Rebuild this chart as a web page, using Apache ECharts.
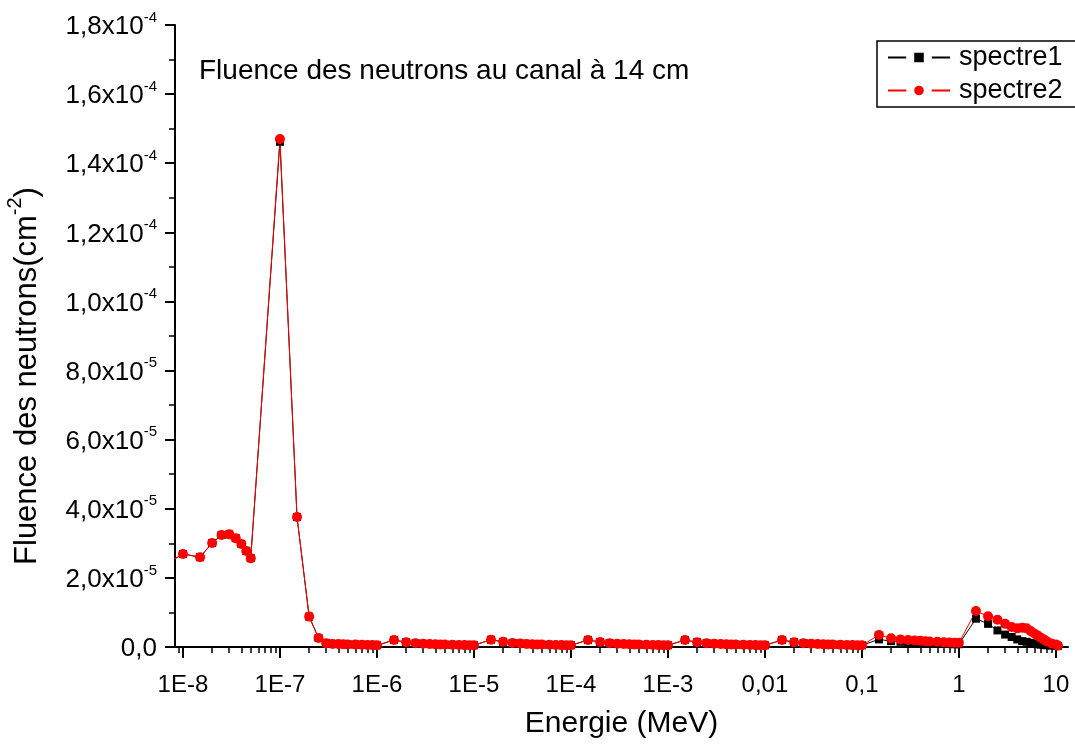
<!DOCTYPE html>
<html>
<head>
<meta charset="utf-8">
<script src="https://cdn.jsdelivr.net/npm/echarts@6/dist/echarts.min.js"></script>
<style>
  html, body { margin: 0; padding: 0; background: #fff; }
  #chart { width: 1075px; height: 744px; }
</style>
</head>
<body>
<div id="chart"></div>
<script>
// energies (MeV)
var energy = [
  5e-9, 1e-8, 1.5e-8, 2e-8, 2.5e-8, 3e-8, 3.5e-8, 4e-8, 4.5e-8, 5e-8,
  1e-7, 1.5e-7, 2e-7, 2.5e-7, 3e-7, 3.5e-7, 4e-7, 4.5e-7, 5e-7, 6e-7, 7e-7, 8e-7, 9e-7, 1e-6,
  1.5e-6, 2e-6, 2.5e-6, 3e-6, 3.5e-6, 4e-6, 4.5e-6, 5e-6, 6e-6, 7e-6, 8e-6, 9e-6, 1e-5,
  1.5e-5, 2e-5, 2.5e-5, 3e-5, 3.5e-5, 4e-5, 4.5e-5, 5e-5, 6e-5, 7e-5, 8e-5, 9e-5, 1e-4,
  1.5e-4, 2e-4, 2.5e-4, 3e-4, 3.5e-4, 4e-4, 4.5e-4, 5e-4, 6e-4, 7e-4, 8e-4, 9e-4, 1e-3,
  1.5e-3, 2e-3, 2.5e-3, 3e-3, 3.5e-3, 4e-3, 4.5e-3, 5e-3, 6e-3, 7e-3, 8e-3, 9e-3, 0.01,
  0.015, 0.02, 0.025, 0.03, 0.035, 0.04, 0.045, 0.05, 0.06, 0.07, 0.08, 0.09, 0.1,
  0.15, 0.2, 0.25, 0.3, 0.35, 0.4, 0.45, 0.5, 0.6, 0.7, 0.8, 0.9, 1,
  1.5, 2, 2.5, 3, 3.5, 4, 4.5, 5, 5.5, 6, 6.5, 7, 7.5, 8, 9, 10, 10.5
];

// fluence, in 1e-6 cm^-2
var spectre1 = [
  22, 26.9, 26.0, 30.1, 32.4, 32.6, 31.5, 29.8, 27.8, 25.7,
  146.2, 37.6, 8.8, 2.6, 1.1, 0.9, 0.85, 0.8, 0.75, 0.7, 0.65, 0.6, 0.55, 0.5,
  2.0, 1.4, 1.1, 0.95, 0.85, 0.8, 0.75, 0.7, 0.65, 0.6, 0.55, 0.5, 0.5,
  2.1, 1.5, 1.15, 1.0, 0.9, 0.8, 0.75, 0.7, 0.65, 0.6, 0.55, 0.5, 0.5,
  2.0, 1.45, 1.1, 0.95, 0.85, 0.8, 0.75, 0.7, 0.65, 0.6, 0.55, 0.5, 0.5,
  2.0, 1.4, 1.1, 0.95, 0.85, 0.8, 0.75, 0.7, 0.65, 0.6, 0.55, 0.5, 0.5,
  2.0, 1.4, 1.1, 0.95, 0.85, 0.8, 0.75, 0.7, 0.65, 0.6, 0.55, 0.5, 0.5,
  2.2, 1.7, 1.5, 1.3, 1.2, 1.1, 1.05, 1.0, 0.95, 0.9, 0.85, 0.8, 0.8,
  8.2, 6.7, 4.8, 3.6, 2.9, 2.2, 1.7, 1.5, 1.2, 1.0, 0.8, 0.7, 0.6, 0.5, 0.4, 0.4, 0.3
];
var spectre2 = [
  22, 26.9, 26.0, 30.1, 32.4, 32.6, 31.5, 29.8, 27.8, 25.7,
  147.0, 37.6, 8.8, 2.6, 1.1, 0.9, 0.85, 0.8, 0.75, 0.7, 0.65, 0.6, 0.55, 0.5,
  2.0, 1.4, 1.1, 0.95, 0.85, 0.8, 0.75, 0.7, 0.65, 0.6, 0.55, 0.5, 0.5,
  2.1, 1.5, 1.15, 1.0, 0.9, 0.8, 0.75, 0.7, 0.65, 0.6, 0.55, 0.5, 0.5,
  2.0, 1.45, 1.1, 0.95, 0.85, 0.8, 0.75, 0.7, 0.65, 0.6, 0.55, 0.5, 0.5,
  2.0, 1.4, 1.1, 0.95, 0.85, 0.8, 0.75, 0.7, 0.65, 0.6, 0.55, 0.5, 0.5,
  2.0, 1.4, 1.1, 0.95, 0.85, 0.8, 0.75, 0.7, 0.65, 0.6, 0.55, 0.5, 0.5,
  3.5, 2.5, 2.2, 2.0, 1.9, 1.8, 1.7, 1.6, 1.5, 1.4, 1.3, 1.25, 1.2,
  10.4, 8.9, 7.9, 6.7, 5.8, 5.4, 5.6, 5.4, 4.6, 3.9, 3.3, 2.7, 2.2, 1.7, 1.0, 0.7, 0.4
];

// x axis decades (log10) and minor ticks
var majorTicks = [-8, -7, -6, -5, -4, -3, -2, -1, 0, 1];
var minorTicks = [];
for (var d = -9; d <= 1; d++) {
  for (var k = 2; k <= 9; k++) minorTicks.push(d + Math.log10(k));
}
var tickNames = {'-8': '1E-8', '-7': '1E-7', '-6': '1E-6', '-5': '1E-5', '-4': '1E-4',
  '-3': '1E-3', '-2': '0,01', '-1': '0,1', '0': '1', '1': '10'};

function toData(vals) {
  var res = [];
  for (var i = 0; i < energy.length; i++) {
    res.push([Math.log10(energy[i]), vals[i] * 1e-6]);
  }
  return res;
}

var FONT = '"Liberation Sans", Arial, sans-serif';
var xMin = -8.082, xMax = 1.125;

var myChart = echarts.init(document.getElementById('chart'));
var option = {
  backgroundColor: '#fff',
  animation: false,
  textStyle: { fontFamily: FONT, color: '#000' },
  title: {
    text: 'Fluence des neutrons au canal à 14 cm',
    left: 194,
    top: 52,
    textStyle: { fontFamily: FONT, fontSize: 28, fontWeight: 'normal', color: '#000' }
  },
  legend: {
    orient: 'vertical',
    left: 877,
    top: 41,
    padding: [3, 16, 3, 10],
    itemGap: 6,
    itemWidth: 62,
    itemHeight: 22,
    borderColor: '#000',
    borderWidth: 1.5,
    textStyle: { fontFamily: FONT, fontSize: 27, color: '#000', padding: [0, 0, 0, 4] },
    data: [
      { name: 'spectre1', itemStyle: { borderColor: '#fff', borderWidth: 8 } },
      { name: 'spectre2', itemStyle: { borderColor: '#fff', borderWidth: 8 } }
    ]
  },
  grid: { left: 175, right: 7, top: 25, bottom: 96 },
  xAxis: [{
    type: 'value',
    min: xMin,
    max: xMax,
    name: 'Energie (MeV)',
    nameLocation: 'middle',
    nameGap: 62,
    nameTextStyle: { fontFamily: FONT, fontSize: 30, color: '#000' },
    axisLine: { show: true, onZero: false, lineStyle: { color: '#000', width: 2 } },
    axisTick: { show: true, inside: false, length: 11, customValues: majorTicks, lineStyle: { color: '#000', width: 2 } },
    axisLabel: {
      customValues: majorTicks,
      margin: 26,
      fontFamily: FONT,
      fontSize: 24,
      color: '#000',
      formatter: function(v) { return tickNames[String(Math.round(v))]; }
    },
    splitLine: { show: false }
  }, {
    type: 'value',
    min: xMin,
    max: xMax,
    position: 'bottom',
    axisLine: { show: false, onZero: false },
    axisTick: { show: true, length: 6, customValues: minorTicks, lineStyle: { color: '#000', width: 1.5 } },
    axisLabel: { show: false },
    splitLine: { show: false }
  }],
  yAxis: {
    type: 'value',
    min: 0,
    max: 1.8e-4,
    interval: 2e-5,
    axisLine: { show: true, onZero: false, lineStyle: { color: '#000', width: 2 } },
    axisTick: { show: true, length: 10, lineStyle: { color: '#000', width: 2 } },
    minorTick: { show: true, splitNumber: 2, length: 6, lineStyle: { color: '#000', width: 1.5 } },
    splitLine: { show: false },
    axisLabel: {
      margin: 18,
      color: '#000',
      formatter: function(v) {
        var k = Math.round(v / 1e-5);
        if (k === 0) return '{m|0,0}';
        var m, e;
        if (k < 10) { m = k.toFixed(1); e = '-5'; } else { m = (k / 10).toFixed(1); e = '-4'; }
        return '{m|' + m.replace('.', ',') + 'x10}{e|' + e + '}';
      },
      rich: {
        m: { fontFamily: FONT, fontSize: 26, lineHeight: 30, verticalAlign: 'bottom', color: '#000' },
        e: { fontFamily: FONT, fontSize: 15, lineHeight: 15, verticalAlign: 'top', color: '#000' }
      }
    }
  },
  graphic: [{
    type: 'text',
    x: 24,
    y: 376,
    rotation: Math.PI / 2,
    style: {
      text: '{a|Fluence des neutrons(cm}{s|-2}{a|)}',
      align: 'center',
      verticalAlign: 'middle',
      rich: {
        a: { fontFamily: FONT, fontSize: 31, lineHeight: 38, verticalAlign: 'bottom', fill: '#000' },
        s: { fontFamily: FONT, fontSize: 20, lineHeight: 20, verticalAlign: 'top', fill: '#000' }
      }
    }
  }],
  series: [{
    name: 'spectre1',
    type: 'line',
    xAxisIndex: 0,
    data: toData(spectre1),
    symbol: 'rect',
    symbolSize: 8,
    showAllSymbol: true,
    clip: true,
    color: '#000',
    lineStyle: { color: '#000', width: 1 },
    itemStyle: { color: '#000' }
  }, {
    name: 'spectre2',
    type: 'line',
    xAxisIndex: 0,
    data: toData(spectre2),
    symbol: 'circle',
    symbolSize: 10,
    showAllSymbol: true,
    clip: true,
    color: '#ff0000',
    lineStyle: { color: '#ff0000', width: 1 },
    itemStyle: { color: '#ff0000' }
  }]
};
myChart.setOption(option);
</script>
</body>
</html>
